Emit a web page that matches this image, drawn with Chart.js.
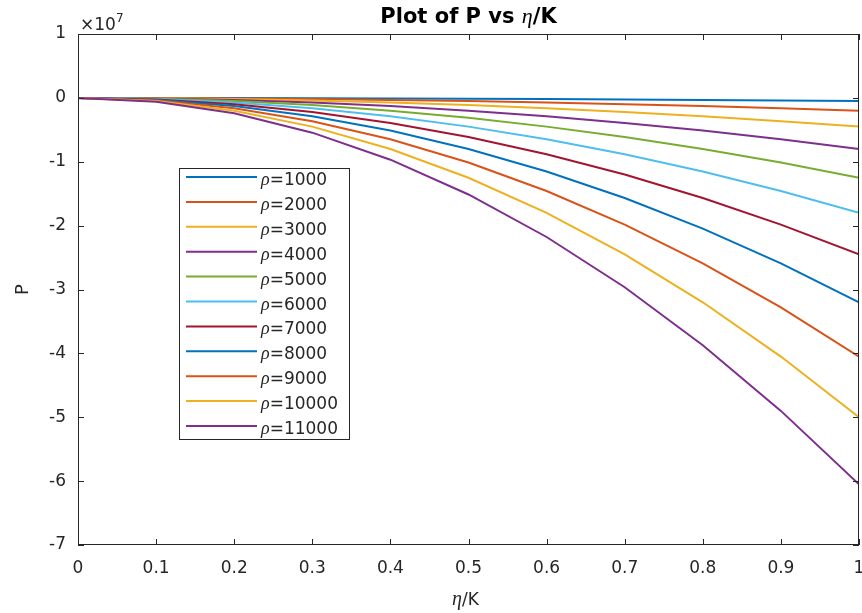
<!DOCTYPE html>
<html>
<head>
<meta charset="utf-8">
<script src="https://cdn.jsdelivr.net/npm/chart.js@4.4.1/dist/chart.umd.min.js"></script>
<style>
  html, body { margin: 0; padding: 0; background: #fff; }
  canvas { display: block; }
</style>
</head>
<body>
<canvas id="plot" width="862" height="613"></canvas>
<script>
// eta/K sample points
const xValues = [0, 0.1, 0.2, 0.3, 0.4, 0.5, 0.6, 0.7, 0.8, 0.9, 1];
const rhoValues = [1000, 2000, 3000, 4000, 5000, 6000, 7000, 8000, 9000, 10000, 11000];

// P values in units of 1e7
const p1000  = [0, -0.0005, -0.002, -0.0045, -0.008, -0.0125, -0.018, -0.0245, -0.032, -0.0405, -0.05];
const p2000  = [0, -0.002, -0.008, -0.018, -0.032, -0.05, -0.072, -0.098, -0.128, -0.162, -0.2];
const p3000  = [0, -0.0045, -0.018, -0.0405, -0.072, -0.1125, -0.162, -0.2205, -0.288, -0.3645, -0.45];
const p4000  = [0, -0.008, -0.032, -0.072, -0.128, -0.2, -0.288, -0.392, -0.512, -0.648, -0.8];
const p5000  = [0, -0.0125, -0.05, -0.1125, -0.2, -0.3125, -0.45, -0.6125, -0.8, -1.0125, -1.25];
const p6000  = [0, -0.018, -0.072, -0.162, -0.288, -0.45, -0.648, -0.882, -1.152, -1.458, -1.8];
const p7000  = [0, -0.0245, -0.098, -0.2205, -0.392, -0.6125, -0.882, -1.2005, -1.568, -1.9845, -2.45];
const p8000  = [0, -0.032, -0.128, -0.288, -0.512, -0.8, -1.152, -1.568, -2.048, -2.592, -3.2];
const p9000  = [0, -0.0405, -0.162, -0.3645, -0.648, -1.0125, -1.458, -1.9845, -2.592, -3.2805, -4.05];
const p10000 = [0, -0.05, -0.2, -0.45, -0.8, -1.25, -1.8, -2.45, -3.2, -4.05, -5.0];
const p11000 = [0, -0.0605, -0.242, -0.5445, -0.968, -1.5125, -2.178, -2.9645, -3.872, -4.9005, -6.05];

const series = [p1000, p2000, p3000, p4000, p5000, p6000, p7000, p8000, p9000, p10000, p11000];

// matlab default line colours
const colors = ['#0072BD', '#D95319', '#EDB120', '#7E2F8E', '#77AC30', '#4DBEEE', '#A2142F'];

const axisColor = '#262626';
const sans = '"DejaVu Sans", sans-serif';
const serif = '"Liberation Serif", serif';

const datasets = series.map((vals, i) => ({
    label: 'ρ=' + rhoValues[i],
    data: vals.map((v, j) => ({ x: xValues[j], y: v })),
    borderColor: colors[i % colors.length],
    backgroundColor: colors[i % colors.length],
    borderWidth: 2,
    pointRadius: 0,
    fill: false,
    tension: 0,
    order: -i,
}));

// draws text made of pieces with different fonts
function drawRich(ctx, parts, x, y, align) {
    let total = 0;
    parts.forEach(p => {
        ctx.font = p.font;
        total += ctx.measureText(p.text).width;
    });
    let cx = align === 'center' ? x - total / 2 : x;
    ctx.textAlign = 'left';
    ctx.textBaseline = 'alphabetic';
    parts.forEach(p => {
        ctx.font = p.font;
        ctx.fillText(p.text, cx, y + (p.dy || 0));
        cx += ctx.measureText(p.text).width;
    });
}

const decorPlugin = {
    id: 'decor',
    afterDraw(chart) {
        const { ctx, chartArea } = chart;
        const { left, right, top, bottom } = chartArea;
        const xs = chart.scales.x;
        const ys = chart.scales.y;

        ctx.save();
        // axes box
        ctx.strokeStyle = axisColor;
        ctx.lineWidth = 1;
        ctx.strokeRect(left + 0.5, top + 0.5, right - left - 1, bottom - top - 1);

        // inward ticks
        ctx.beginPath();
        xs.ticks.forEach(t => {
            const px = Math.round(xs.getPixelForValue(t.value)) + 0.5;
            ctx.moveTo(px, bottom); ctx.lineTo(px, bottom - 6);
            ctx.moveTo(px, top); ctx.lineTo(px, top + 6);
        });
        ys.ticks.forEach(t => {
            const py = Math.round(ys.getPixelForValue(t.value)) + 0.5;
            ctx.moveTo(left, py); ctx.lineTo(left + 6, py);
            ctx.moveTo(right, py); ctx.lineTo(right - 6, py);
        });
        ctx.stroke();

        ctx.fillStyle = '#000';
        // title
        drawRich(ctx, [
            { text: 'Plot of P vs ', font: 'bold 21px ' + sans },
            { text: 'η', font: 'italic 22px ' + serif },
            { text: '/K', font: 'bold 21px ' + sans },
        ], (left + right) / 2, 23, 'center');

        // exponent
        ctx.fillStyle = axisColor;
        drawRich(ctx, [
            { text: '×10', font: '17px ' + sans },
            { text: '7', font: '12px ' + sans, dy: -8 },
        ], left + 2, 30, 'left');

        // x label
        drawRich(ctx, [
            { text: 'η', font: 'italic 20px ' + serif },
            { text: '/K', font: '17px ' + sans },
        ], (left + right) / 2 - 3, 605, 'center');

        // y label
        ctx.save();
        ctx.translate(28, (top + bottom) / 2);
        ctx.rotate(-Math.PI / 2);
        ctx.font = '18px ' + sans;
        ctx.textAlign = 'center';
        ctx.textBaseline = 'alphabetic';
        ctx.fillText('P', 0, 0);
        ctx.restore();

        // legend box inside the axes
        const lx = 179, ly = 168, lw = 170, lh = 271;
        const rowY0 = 177, rowStep = 24.9;
        ctx.fillStyle = '#fff';
        ctx.fillRect(lx, ly, lw, lh);
        ctx.strokeStyle = axisColor;
        ctx.lineWidth = 1;
        ctx.strokeRect(lx + 0.5, ly + 0.5, lw, lh);
        chart.data.datasets.forEach((ds, i) => {
            const ry = rowY0 + i * rowStep;
            ctx.strokeStyle = ds.borderColor;
            ctx.lineWidth = 2;
            ctx.beginPath();
            ctx.moveTo(186, ry);
            ctx.lineTo(257, ry);
            ctx.stroke();
            ctx.fillStyle = axisColor;
            drawRich(ctx, [
                { text: 'ρ', font: 'italic 18px ' + serif },
                { text: '=' + rhoValues[i], font: '17px ' + sans },
            ], 261, ry + 8, 'left');
        });
        ctx.restore();
    },
};

new Chart(document.getElementById('plot').getContext('2d'), {
    type: 'line',
    data: { datasets },
    options: {
        responsive: false,
        animation: false,
        layout: { padding: { top: 34, right: 3, left: 0, bottom: 0 } },
        plugins: {
            legend: { display: false },
            title: { display: false },
            tooltip: { enabled: false },
        },
        scales: {
            x: {
                type: 'linear',
                min: 0,
                max: 1,
                grid: { display: false, drawTicks: false },
                border: { display: false },
                ticks: {
                    stepSize: 0.1,
                    padding: 13,
                    color: axisColor,
                    maxRotation: 0,
                    autoSkip: false,
                    font: { family: 'DejaVu Sans', size: 17 },
                    callback: v => String(Number(v.toFixed(1))),
                },
                afterFit(s) {
                    s.height = 68;
                    s.paddingLeft = 0;
                    s.paddingRight = 0;
                },
            },
            y: {
                type: 'linear',
                min: -7,
                max: 1,
                grid: { display: false, drawTicks: false },
                border: { display: false },
                ticks: {
                    stepSize: 1,
                    padding: 12,
                    color: axisColor,
                    font: { family: 'DejaVu Sans', size: 17 },
                },
                afterFit(s) {
                    s.width = 78;
                    s.paddingTop = 0;
                    s.paddingBottom = 0;
                },
            },
        },
    },
    plugins: [decorPlugin],
});
</script>
</body>
</html>
